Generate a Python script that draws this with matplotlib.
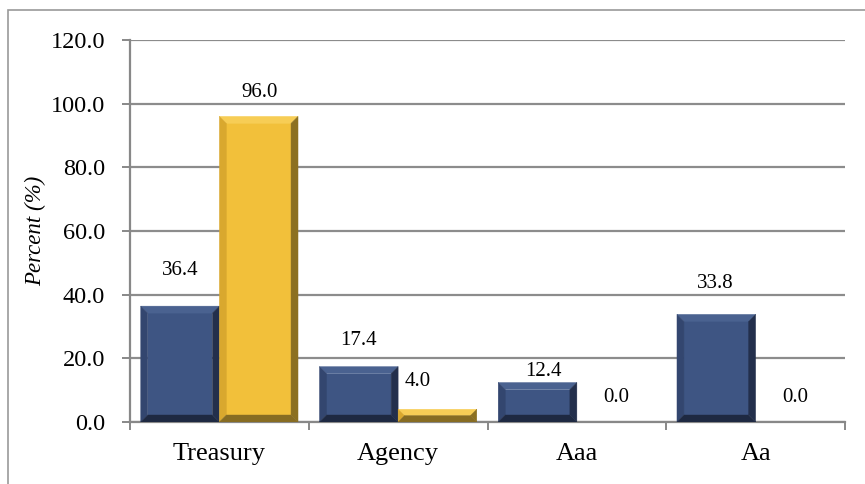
#!/usr/bin/env python3
"""Grouped bevel bar chart: share by rating category."""

import matplotlib

matplotlib.use("Agg")
import matplotlib.pyplot as plt
from matplotlib.patches import Polygon, Rectangle

categories = ["Treasury", "Agency", "Aaa", "Aa"]
series_a = [36.4, 17.4, 12.4, 33.8]
series_b = [96.0, 4.0, 0.0, 0.0]
y_ticks = [0, 20, 40, 60, 80, 100, 120]

# label nudges in pixels (up from bar top, sideways)
lab_up_a = [36, 26, 11, 31]
lab_dx_a = [0, 0, 6, -1]
lab_up_b = [24, 28, 25, 25]
lab_dx_b = [1, -20, 0, 0]

BLUE = dict(face="#3E5583", top="#4A6290", left="#33466F", right="#232F4C", bottom="#1E2942")
GOLD = dict(face="#F2C03A", top="#F7CD55", left="#D9A82E", right="#8C7020", bottom="#876C22")

plt.rcParams["font.family"] = ["Liberation Serif", "DejaVu Serif"]

fig = plt.figure(figsize=(8.65, 4.84), dpi=100)
ax = fig.add_axes([130 / 865, 62 / 484, 715 / 865, 382 / 484])
ax.set_xlim(-0.5, len(categories) - 0.5)
ax.set_ylim(0, 120)

# outer chart frame (only top and left visible in the crop)
fig.add_artist(Rectangle((8 / 865, -0.05), 1.2, (484 - 10) / 484 + 0.05,
                         transform=fig.transFigure, fill=False,
                         edgecolor="#9A9A9A", lw=1.2))

ax.set_yticks(y_ticks)
ax.set_yticklabels([f"{v:.1f}" for v in y_ticks])
ax.yaxis.grid(True, color="#8C8C8C", lw=1.6)
ax.set_axisbelow(True)
for s in ("top", "right"):
    ax.spines[s].set_visible(False)
for s in ("left", "bottom"):
    ax.spines[s].set_color("#888888")
    ax.spines[s].set_linewidth(1.6)

ax.set_xticks([i - 0.5 for i in range(len(categories) + 1)])
ax.set_xticklabels([])
ax.set_xticks(range(len(categories)), minor=True)
ax.set_xticklabels(categories, minor=True)
ax.tick_params(axis="x", which="major", length=6, width=1.4, color="#888888")
ax.tick_params(axis="x", which="minor", length=0, pad=15, labelsize=19)
ax.tick_params(axis="y", length=6, width=1.4, color="#888888", pad=12, labelsize=17.5)
ax.set_ylabel("Percent (%)", fontstyle="italic", fontsize=16.5, labelpad=3)

w = 0.44
xa = [i - w / 2 for i in range(len(categories))]
xb = [i + w / 2 for i in range(len(categories))]

fig.canvas.draw()
inv = ax.transData.inverted()


def bevel_bar(xc, h, pal):
    x0d, x1d = xc - w / 2, xc + w / 2
    (x0, y0), (x1, y1) = ax.transData.transform([(x0d, 0), (x1d, h)])
    if y1 - y0 < 0.5:
        return
    b = min(7.0, (y1 - y0) / 2, (x1 - x0) / 2)
    polys = {
        "face": [(x0 + b, y0 + b), (x1 - b, y0 + b), (x1 - b, y1 - b), (x0 + b, y1 - b)],
        "top": [(x0, y1), (x1, y1), (x1 - b, y1 - b), (x0 + b, y1 - b)],
        "left": [(x0, y0), (x0, y1), (x0 + b, y1 - b), (x0 + b, y0 + b)],
        "right": [(x1, y0), (x1, y1), (x1 - b, y1 - b), (x1 - b, y0 + b)],
        "bottom": [(x0, y0), (x1, y0), (x1 - b, y0 + b), (x0 + b, y0 + b)],
    }
    for key, pts in polys.items():
        ax.add_patch(Polygon(inv.transform(pts), closed=True, facecolor=pal[key],
                             edgecolor=pal[key], lw=0.3, zorder=3))


def put_label(xc, h, up, dx):
    px, py = ax.transData.transform((xc, h))
    lx, ly = inv.transform((px + dx, py + up))
    ax.text(lx, ly, f"{h:.1f}", ha="center", va="center", fontsize=15, zorder=4)


for i in range(len(categories)):
    bevel_bar(xa[i], series_a[i], BLUE)
    bevel_bar(xb[i], series_b[i], GOLD)
    put_label(xa[i], series_a[i], lab_up_a[i], lab_dx_a[i])
    put_label(xb[i], series_b[i], lab_up_b[i], lab_dx_b[i])

fig.savefig("out.png", dpi=100)
